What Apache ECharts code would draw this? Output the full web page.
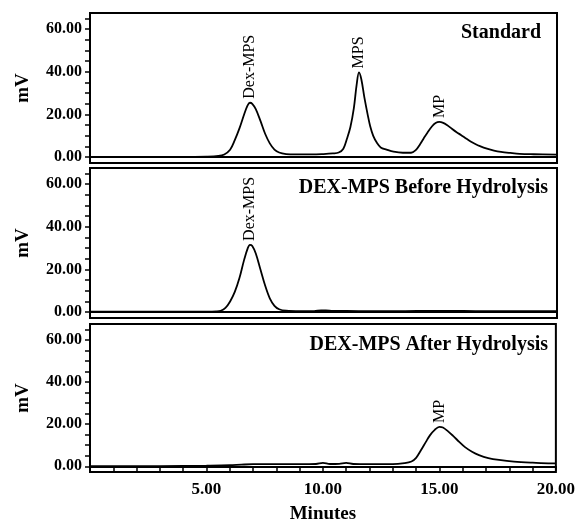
<!DOCTYPE html>
<html>
<head>
<meta charset="utf-8">
<script src="https://cdn.jsdelivr.net/npm/echarts@6/dist/echarts.min.js"></script>
<style>
  html, body { margin: 0; padding: 0; background: #fff; }
  #chart { width: 578px; height: 525px; }
</style>
</head>
<body>
<div id="chart"></div>
<script>
// chromatogram traces, [minutes, mV]
const standardTrace = [
  [0, 0.1], [2, 0.1], [4, 0.2], [5, 0.3], [5.5, 0.6], [5.75, 1.3], [6.0, 3.5], [6.2, 8], [6.4, 13.5],
  [6.6, 20], [6.75, 24.3], [6.85, 25.5], [6.95, 25], [7.1, 22.5], [7.3, 17], [7.5, 11], [7.7, 6.5],
  [7.9, 3.6], [8.1, 2.2], [8.4, 1.5], [8.8, 1.3], [9.5, 1.3], [10, 1.5], [10.4, 1.8], [10.65, 2.2],
  [10.85, 4], [11.0, 8.5], [11.15, 14], [11.3, 23], [11.42, 34], [11.52, 39.7], [11.62, 36.5],
  [11.75, 28], [11.9, 19.5], [12.0, 14.5], [12.13, 10], [12.3, 6.5], [12.45, 4.6], [12.7, 3.6],
  [13.0, 2.6], [13.4, 2.1], [13.75, 2.1], [13.95, 3.3], [14.13, 6], [14.3, 9], [14.45, 11.5],
  [14.65, 14.5], [14.8, 16], [14.96, 16.5], [15.1, 16.2], [15.3, 15], [15.5, 13.3], [15.7, 11.7],
  [15.9, 10.3], [16.1, 8.8], [16.3, 7.4], [16.5, 6.2], [16.7, 5.2], [17.0, 4.0], [17.3, 3.1],
  [17.6, 2.5], [18.0, 2.0], [18.4, 1.6], [19.0, 1.4], [20, 1.2]
];
const beforeTrace = [
  [0, 0.3], [2, 0.3], [4, 0.3], [5, 0.3], [5.4, 0.4], [5.6, 0.7], [5.8, 2], [6.0, 5], [6.2, 9.5],
  [6.4, 16], [6.6, 24.5], [6.75, 29.8], [6.85, 31.5], [6.95, 31], [7.1, 27.5], [7.3, 20], [7.5, 12.5],
  [7.7, 6.5], [7.9, 3], [8.1, 1.4], [8.4, 0.7], [9, 0.5], [9.6, 0.5], [9.9, 0.9], [10.1, 0.9],
  [10.4, 0.6], [11, 0.6], [12, 0.5], [13, 0.5], [14, 0.6], [15, 0.6], [16, 0.6], [17, 0.5],
  [18, 0.5], [19, 0.5], [20, 0.5]
];
const afterTrace = [
  [0, 0.1], [2, 0.1], [4, 0.2], [5, 0.3], [6, 0.5], [6.5, 0.8], [7, 1.0], [8, 1.0], [9, 1.0],
  [9.7, 1.1], [10, 1.6], [10.3, 1.1], [10.7, 1.2], [11, 1.6], [11.3, 1.1], [12, 1.0], [13, 1.0],
  [13.5, 1.5], [13.8, 2.3], [14.0, 4], [14.2, 7.5], [14.42, 11.6], [14.6, 14.8], [14.8, 17.3],
  [15.0, 18.7], [15.15, 18.4], [15.35, 16.8], [15.6, 14.3], [15.85, 11.6], [16.1, 9.1], [16.4, 6.9],
  [16.7, 5.3], [17.1, 3.9], [17.56, 3.0], [18.2, 2.2], [19.0, 1.7], [19.8, 1.4], [20, 1.4]
];

// peak annotations [minutes, mV, name]
const standardPeaks = [[6.85, 25.5, 'Dex-MPS'], [11.52, 39.7, 'MPS'], [14.96, 16.5, 'MP']];
const beforePeaks = [[6.85, 31.5, 'Dex-MPS']];
const afterPeaks = [[15.0, 18.7, 'MP']];

const panelTitles = ['Standard', 'DEX-MPS Before Hydrolysis', 'DEX-MPS After Hydrolysis'];
const yTickValues = [0, 5, 10, 15, 20, 25, 30, 35, 40, 45, 50, 55, 60, 65];
const yLabelValues = [0, 20, 40, 60];
const xLabelValues = [5, 10, 15, 20];

const traces = [standardTrace, beforeTrace, afterTrace];
const peaks = [standardPeaks, beforePeaks, afterPeaks];

const serif = '"Liberation Serif", "DejaVu Serif", serif';
const gridTops = [13, 168, 324];
const gridHeight = 150;

const grids = gridTops.map(t => ({
  left: 90, right: 21, top: t, height: gridHeight,
  show: true, borderColor: '#000', borderWidth: 2
}));

const xAxes = gridTops.map((t, i) => ({
  type: 'value', gridIndex: i, min: 0, max: 20, interval: 1,
  axisLine: { show: true, lineStyle: { color: '#000', width: 2 } },
  axisTick: { show: i === 2, length: 5, lineStyle: { color: '#000', width: 1.5 } },
  axisLabel: {
    show: i === 2, margin: 9, color: '#000', fontFamily: serif, fontWeight: 'bold', fontSize: 17,
    formatter: v => xLabelValues.indexOf(v) >= 0 ? v.toFixed(2) : ''
  },
  splitLine: { show: false },
  name: i === 2 ? 'Minutes' : '', nameLocation: 'middle', nameGap: 33,
  nameTextStyle: { color: '#000', fontFamily: serif, fontWeight: 'bold', fontSize: 19 }
}));

const yAxes = gridTops.map((t, i) => ({
  type: 'value', gridIndex: i, min: -2.7, max: 67.5,
  axisLine: { show: true, lineStyle: { color: '#000', width: 2 } },
  axisTick: { show: true, length: 5, customValues: yTickValues, lineStyle: { color: '#000', width: 1.5 } },
  axisLabel: {
    margin: 8, color: '#000', fontFamily: serif, fontWeight: 'bold', fontSize: 16,
    customValues: yLabelValues, formatter: v => v.toFixed(2)
  },
  splitLine: { show: false },
  name: 'mV', nameLocation: 'middle', nameRotate: 90, nameGap: 57,
  nameTextStyle: { color: '#000', fontFamily: serif, fontWeight: 'bold', fontSize: 19 }
}));

const series = [];
traces.forEach((tr, i) => {
  series.push({
    type: 'line', xAxisIndex: i, yAxisIndex: i, data: tr,
    smooth: 0.35, symbol: 'none',
    lineStyle: { color: '#000', width: 1.8 }
  });
  series.push({
    type: 'scatter', xAxisIndex: i, yAxisIndex: i, symbolSize: 0,
    data: peaks[i].map(p => ({ value: [p[0], p[1]], name: p[2] })),
    label: {
      show: true, formatter: '{b}', position: 'top', distance: 4, rotate: 90,
      align: 'left', verticalAlign: 'middle', opacity: 1,
      color: '#000', fontFamily: serif, fontSize: 16
    }
  });
});

const titleRights = [541, 548, 548];
const titleYs = [33, 188, 345];
const graphic = panelTitles.map((txt, i) => ({
  type: 'text', x: titleRights[i], y: titleYs[i],
  style: {
    text: txt, align: 'right', verticalAlign: 'middle',
    fill: '#000', font: 'bold 20px ' + serif
  }
}));

const chart = echarts.init(document.getElementById('chart'));
chart.setOption({
  animation: false,
  grid: grids,
  xAxis: xAxes,
  yAxis: yAxes,
  series: series,
  graphic: graphic
});
</script>
</body>
</html>
